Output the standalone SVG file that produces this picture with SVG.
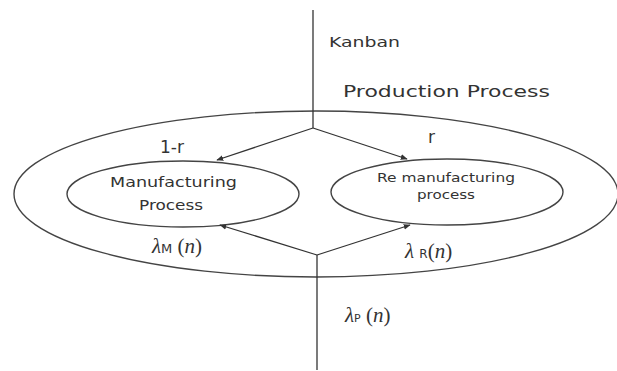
<svg xmlns="http://www.w3.org/2000/svg" width="617" height="371" viewBox="0 0 617 371">
<style>
.ln{stroke:#333;stroke-width:1.3;fill:none}
.el{stroke:#444;stroke-width:1.4;fill:none}
.t{font-family:"DejaVu Sans",sans-serif;fill:#333}
.m{font-family:"Liberation Serif",serif;fill:#333}
</style>
<defs>
<marker id="ah" viewBox="0 0 10 10" refX="9" refY="5" markerWidth="7" markerHeight="7" orient="auto" markerUnits="userSpaceOnUse">
<path d="M0,1 L10,5 L0,9 z" fill="#333"/>
</marker>
</defs>
<rect width="617" height="371" fill="#fff"/>
<g id="production">
<ellipse class="el" cx="316" cy="194" rx="302" ry="83"/>
<text class="t" x="343" y="97" font-size="15" textLength="207" lengthAdjust="spacingAndGlyphs">Production Process</text>
</g>
<g id="manufacturing">
<ellipse class="el" cx="183" cy="194" rx="116" ry="33"/>
<text class="t" x="110" y="187" font-size="14" textLength="127" lengthAdjust="spacingAndGlyphs">Manufacturing</text>
<text class="t" x="139" y="210" font-size="14" textLength="64" lengthAdjust="spacingAndGlyphs">Process</text>
</g>
<g id="remanufacturing">
<ellipse class="el" cx="447" cy="192" rx="116" ry="33"/>
<text class="t" x="377" y="182" font-size="11.5" textLength="138" lengthAdjust="spacingAndGlyphs">Re manufacturing</text>
<text class="t" x="417" y="199" font-size="11.5" textLength="58" lengthAdjust="spacingAndGlyphs">process</text>
</g>
<g id="connectors">
<line class="ln" x1="313" y1="10" x2="313" y2="128"/>
<line class="ln" x1="313" y1="128" x2="217" y2="160" marker-end="url(#ah)"/>
<line class="ln" x1="313" y1="128" x2="407" y2="159" marker-end="url(#ah)"/>
<line class="ln" x1="317" y1="255" x2="317" y2="370"/>
<line class="ln" x1="317" y1="255" x2="220" y2="225" marker-end="url(#ah)"/>
<line class="ln" x1="317" y1="255" x2="410" y2="225" marker-end="url(#ah)"/>
</g>
<g id="labels">
<text class="t" x="329" y="47" font-size="13.5" textLength="71" lengthAdjust="spacingAndGlyphs">Kanban</text>
<text class="t" x="160" y="153" font-size="17">1-r</text>
<text class="t" x="428" y="143" font-size="17">r</text>
<text class="m" x="152" y="253" font-size="21"><tspan font-style="italic">λ</tspan><tspan font-size="13" font-family="DejaVu Sans, sans-serif">M</tspan> (<tspan font-style="italic">n</tspan>)</text>
<text class="m" x="405" y="258" font-size="21"><tspan font-style="italic">λ</tspan> <tspan font-size="12" font-family="DejaVu Sans, sans-serif">R</tspan>(<tspan font-style="italic">n</tspan>)</text>
<text class="m" x="345" y="322" font-size="21"><tspan font-style="italic">λ</tspan><tspan font-size="11" font-family="DejaVu Sans, sans-serif">P</tspan> (<tspan font-style="italic">n</tspan>)</text>
</g>
</svg>
